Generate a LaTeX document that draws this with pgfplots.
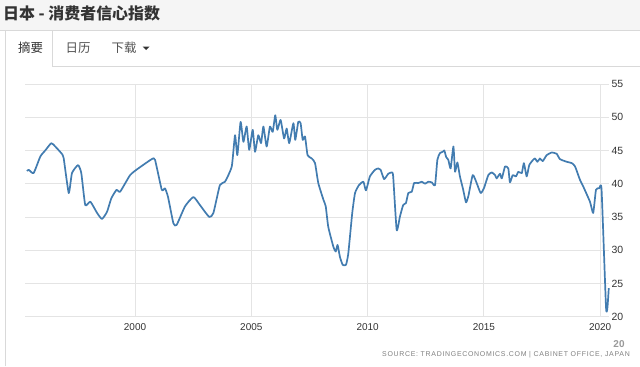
\documentclass[border=0pt]{standalone}
\usepackage{pgfplots}
\pgfplotsset{compat=1.18}
\usepackage{fontspec}
\setmainfont{Liberation Sans}
\newfontfamily\cjk{Noto Sans CJK SC}
\definecolor{linec}{RGB}{66,124,176}
\definecolor{gridc}{RGB}{228,228,228}
\definecolor{txt}{RGB}{51,51,51}
\begin{document}
\begin{tikzpicture}
\begin{scope}[x=1bp,y=1bp]
\useasboundingbox (0,0) rectangle (640,366);
\fill[white] (0,0) rectangle (640,366);
\fill[gray!8] (0,336) rectangle (640,366);
\draw[gray!30] (0,336) -- (640,336);
\node[anchor=west, inner sep=0pt, text=txt] at (3,353) {\cjk\bfseries\fontsize{16}{18}\selectfont 日本 - 消费者信心指数};
\draw[gray!30] (5,0) -- (5,336);
\draw[gray!30] (52,336) -- (52,300) -- (640,300);
\node[text=txt, inner sep=0pt] at (30.5,318) {\cjk\fontsize{12.5}{14}\selectfont 摘要};
\node[text=txt!85, inner sep=0pt] at (78,318) {\cjk\fontsize{12.5}{14}\selectfont 日历};
\node[text=txt!85, inner sep=0pt] at (124,318) {\cjk\fontsize{12.5}{14}\selectfont 下载};
\fill[txt] (142.5,319.5) -- (149.5,319.5) -- (146,316) -- cycle;
\node[anchor=center, inner sep=0pt, text=gray!80, font=\bfseries\fontsize{10}{12}\selectfont] at (619,22) {20};
\node[anchor=east, inner sep=0pt, text=gray, font=\fontsize{7}{8}\selectfont] at (630,11) {\addfontfeature{LetterSpace=10}SOURCE: TRADINGECONOMICS.COM | CABINET OFFICE, JAPAN};
\end{scope}
\begin{axis}[
  at={(25bp,49.3bp)}, anchor=south west,
  width=584bp, height=232.7bp, scale only axis,
  xmin=1995.27, xmax=2020.38, ymin=20, ymax=55,
  axis line style={draw=none},
  tick style={draw=none},
  grid=major, grid style={gridc, line width=0.8pt},
  xtick={2000,2005,2010,2015,2020},
  ytick={20,25,30,35,40,45,50,55},
  yticklabel pos=right,
  /pgf/number format/assume math mode=true,
  x tick label style={/pgf/number format/1000 sep={}, font=\fontsize{10}{12}\selectfont, text=txt, yshift=-3bp},
  y tick label style={font=\fontsize{10.5}{12}\selectfont, text=txt, xshift=-1bp},
  clip=false,
]
\addplot[linec, line width=1.7pt, line join=round, smooth, tension=0.3] coordinates {
(1995.36,41.9)(1995.43,42.1)(1995.64,41.6)(1995.93,44.1)(1996.14,45.0)(1996.40,46.1)(1996.57,45.6)
(1996.83,44.6)(1996.93,43.9)(1997.15,38.6)(1997.29,41.6)(1997.55,42.8)(1997.69,41.6)(1997.86,36.8)
(1998.08,37.3)(1998.37,35.6)(1998.58,34.7)(1998.80,35.8)(1998.98,37.8)(1999.21,39.1)(1999.36,38.8)
(1999.79,41.3)(2000.14,42.3)(2000.72,43.7)(2000.86,43.6)(2001.15,39.1)(2001.29,39.3)(2001.42,38.0)
(2001.65,34.05)(2001.79,33.8)(2002.15,36.6)(2002.51,38.0)(2002.79,36.8)(2003.19,35.0)(2003.37,35.6)
(2003.65,39.8)(2003.87,40.3)(2004.16,42.6)(2004.30,47.3)(2004.40,44.3)(2004.54,49.3)(2004.66,46.3)
(2004.80,48.6)(2004.91,45.1)(2005.06,48.1)(2005.16,44.8)(2005.30,47.3)(2005.42,46.1)(2005.52,48.6)
(2005.66,45.6)(2005.80,48.6)(2005.92,47.8)(2006.03,50.3)(2006.12,48.1)(2006.26,49.6)(2006.41,46.8)
(2006.52,48.3)(2006.63,46.1)(2006.81,49.1)(2006.89,46.6)(2007.02,49.3)(2007.12,49.1)(2007.21,46.6)
(2007.31,47.1)(2007.42,44.3)(2007.60,43.8)(2007.74,43.1)(2007.88,40.1)(2008.10,37.6)(2008.20,36.6)
(2008.31,33.5)(2008.53,30.5)(2008.63,29.8)(2008.71,30.8)(2008.81,29.0)(2008.93,27.8)(2009.07,27.8)
(2009.17,29.5)(2009.34,35.6)(2009.46,38.6)(2009.63,39.8)(2009.82,40.3)(2009.93,39.0)(2010.10,41.1)
(2010.32,42.1)(2010.46,42.3)(2010.56,42.1)(2010.71,40.7)(2010.89,41.5)(2011.04,41.7)(2011.10,41.1)
(2011.25,33.05)(2011.39,35.05)(2011.53,36.8)(2011.65,37.1)(2011.75,38.6)(2011.90,38.8)(2012.00,40.1)
(2012.18,40.1)(2012.33,40.3)(2012.47,40.0)(2012.61,40.3)(2012.76,40.2)(2012.90,39.8)(2013.00,43.6)
(2013.11,44.6)(2013.23,44.8)(2013.30,45.0)(2013.38,44.0)(2013.47,43.6)(2013.57,42.3)(2013.69,45.6)
(2013.76,41.8)(2013.86,43.2)(2013.97,41.1)(2014.11,39.1)(2014.23,37.2)(2014.33,38.1)(2014.52,41.3)
(2014.69,40.1)(2014.86,38.6)(2015.00,39.3)(2015.19,41.3)(2015.34,41.7)(2015.48,41.3)(2015.55,40.8)
(2015.69,41.5)(2015.77,40.8)(2015.91,42.6)(2016.05,42.3)(2016.12,40.2)(2016.24,41.3)(2016.38,41.1)
(2016.48,41.8)(2016.63,41.6)(2016.72,43.1)(2016.84,41.1)(2016.95,42.8)(2017.12,43.6)(2017.20,43.8)
(2017.30,43.3)(2017.41,43.8)(2017.53,43.4)(2017.70,44.3)(2017.92,44.7)(2018.13,44.5)(2018.27,43.7)
(2018.56,43.3)(2018.78,43.1)(2018.92,42.6)(2019.13,40.6)(2019.27,39.6)(2019.56,37.3)(2019.70,35.6)
(2019.82,39.1)(2019.96,39.3)(2020.06,39.1)(2020.25,21.5)(2020.31,21.3)(2020.37,24.3)
};
\end{axis}
\end{tikzpicture}
\end{document}
